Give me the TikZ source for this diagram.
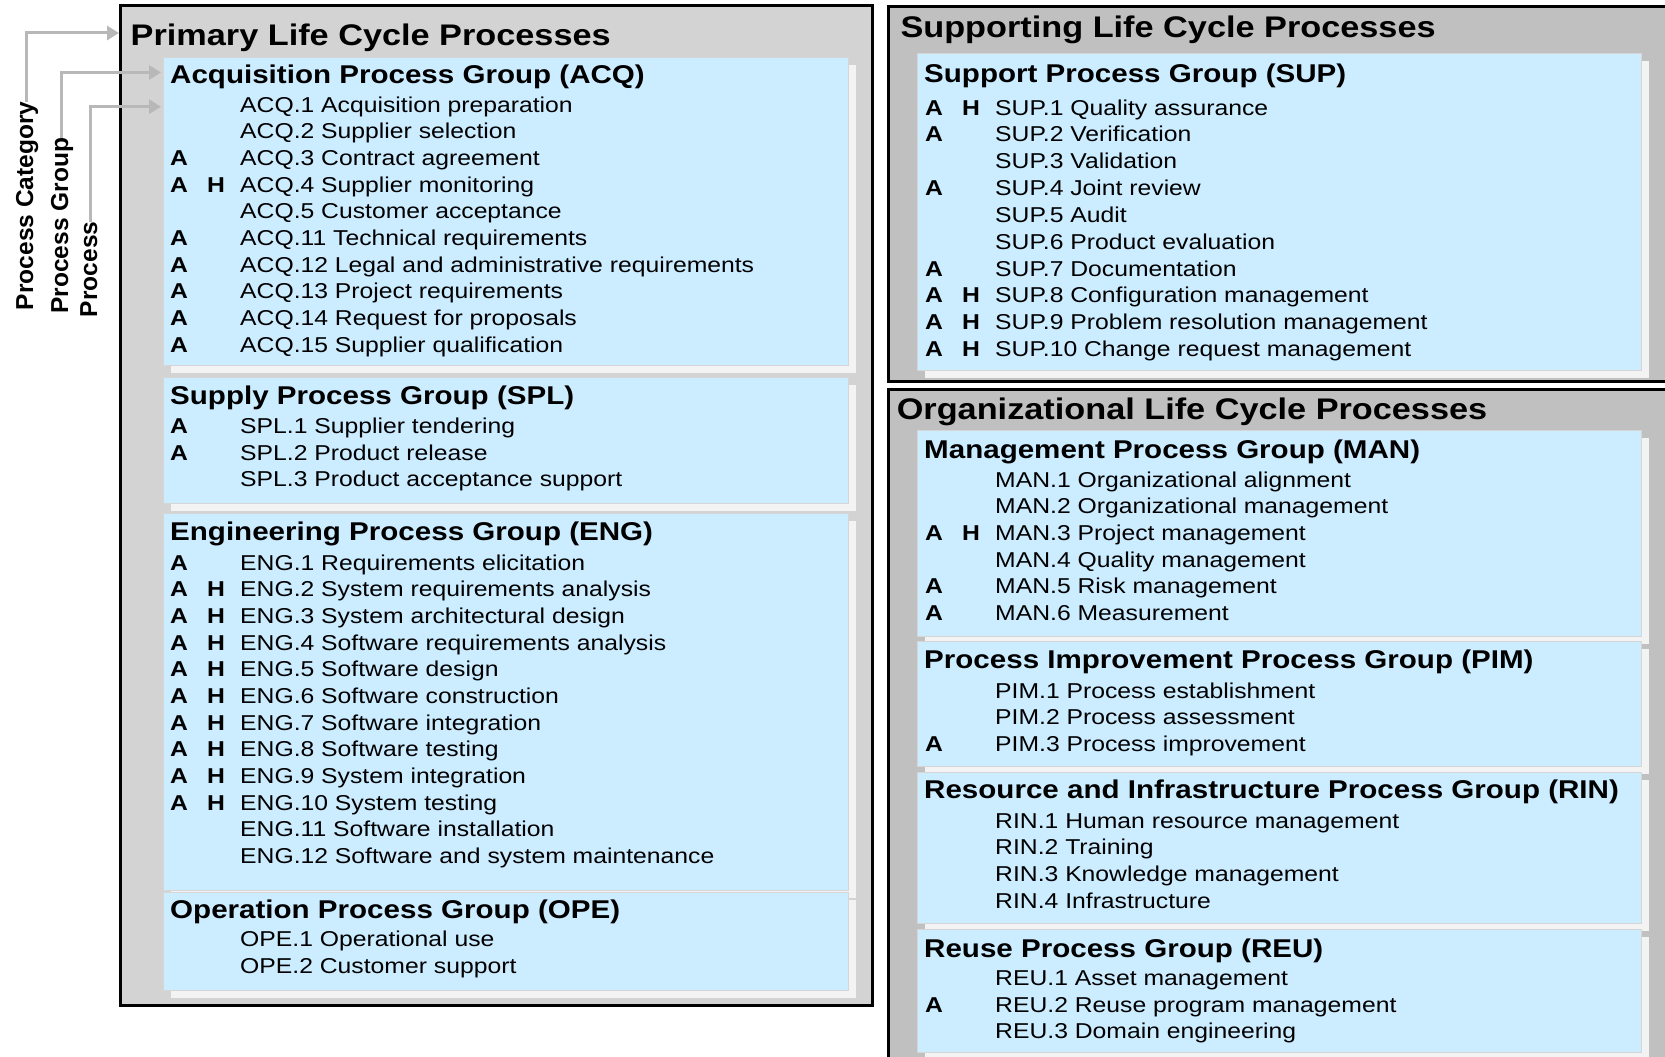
\documentclass[tikz,border=0pt]{standalone}
\usepackage{fontspec}
\setmainfont{Liberation Sans}[FakeStretch=1.15]
\newfontfamily\plainsans{Liberation Sans}
\usetikzlibrary{arrows.meta,shadows}
\definecolor{pblue}{HTML}{CCECFF}
\definecolor{pgray}{HTML}{D3D3D3}
\definecolor{sgray}{HTML}{C0C0C0}
\definecolor{shadowc}{HTML}{F3F3F3}
\definecolor{boxedge}{HTML}{D6D6D6}
\definecolor{arrgray}{HTML}{B8B8B8}
\newcommand{\plist}[1]{\begin{tabular}[t]{@{}p{37pt}@{}p{33pt}@{}l@{}}#1\end{tabular}}
\newcommand{\prow}[3]{\textbf{#1}&\textbf{#2}&#3\\}
\begin{document}
\begin{tikzpicture}[x=1pt,y=-1pt,
  catbox/.style={draw=black, line width=3pt, anchor=north west, inner sep=0pt, outer sep=0pt},
  grpbox/.style={fill=pblue, draw=boxedge, line width=0.8pt, anchor=north west, inner sep=0pt, outer sep=0pt,
    general shadow={fill=shadowc, shadow xshift=8pt, shadow yshift=-8pt}},
  titletxt/.style={anchor=base west, inner sep=0pt, font=\bfseries\fontsize{29.8}{34}\selectfont},
  headtxt/.style={anchor=base west, inner sep=0pt, font=\bfseries\fontsize{25.7}{30}\selectfont},
  itemtxt/.style={anchor=base west, inner sep=0pt, font=\fontsize{21.5}{26.67}\selectfont},
  itemtxtb/.style={anchor=base west, inner sep=0pt, font=\fontsize{21.5}{26.85}\selectfont},
  lbl/.style={rotate=90, anchor=base west, inner sep=0pt, outer sep=0pt, text height=18pt, text depth=5pt,
    font=\plainsans\bfseries\fontsize{24.5}{28}\selectfont},
  arr/.style={draw=arrgray, line width=3pt, -{Triangle[length=12pt,width=14pt]}}]
\useasboundingbox (0,0) rectangle (1665,1057);
\clip (0,0) rectangle (1665,1057);

% ---------- category boxes ----------
\node[catbox, fill=pgray, minimum width=752pt, minimum height=999pt] (primary) at (120.5,6) {};
\node[catbox, fill=sgray, minimum width=900pt, minimum height=374pt] (supporting) at (888.5,7) {};
\node[catbox, fill=sgray, minimum width=900pt, minimum height=800pt] (organizational) at (888.5,389) {};

% ---------- group boxes ----------
\node[grpbox, minimum width=685pt, minimum height=308pt] (acq) at (163,57) {};
\node[grpbox, minimum width=685pt, minimum height=126pt] (spl) at (163,377) {};
\node[grpbox, minimum width=685pt, minimum height=377pt] (eng) at (163,513) {};
\node[grpbox, minimum width=685pt, minimum height=98pt] (ope) at (163,892) {};
\node[grpbox, minimum width=724pt, minimum height=317pt] (sup) at (917,53) {};
\node[grpbox, minimum width=724pt, minimum height=206pt] (man) at (917,430) {};
\node[grpbox, minimum width=724pt, minimum height=125pt] (pim) at (917,641) {};
\node[grpbox, minimum width=724pt, minimum height=151pt] (rin) at (917,772) {};
\node[grpbox, minimum width=724pt, minimum height=123pt] (reu) at (917,929) {};

% ---------- titles ----------
\node[titletxt] (primtitle) at (130.5,45.5) {Primary Life Cycle Processes};
\node[titletxt] (suptitle) at (900.3,37.5) {Supporting Life Cycle Processes};
\node[titletxt] (orgtitle) at (896.6,419) {Organizational Life Cycle Processes};

% ---------- primary groups ----------
\node[headtxt] (acqhead) at (170,83.5) {Acquisition Process Group (ACQ)};
\node[itemtxt] (acqlist) at (170,112) {\plist{%
\prow{}{}{ACQ.1 Acquisition preparation}
\prow{}{}{ACQ.2 Supplier selection}
\prow{A}{}{ACQ.3 Contract agreement}
\prow{A}{H}{ACQ.4 Supplier monitoring}
\prow{}{}{ACQ.5 Customer acceptance}
\prow{A}{}{ACQ.11 Technical requirements}
\prow{A}{}{ACQ.12 Legal and administrative requirements}
\prow{A}{}{ACQ.13 Project requirements}
\prow{A}{}{ACQ.14 Request for proposals}
\prow{A}{}{ACQ.15 Supplier qualification}}};

\node[headtxt] (splhead) at (170,404) {Supply Process Group (SPL)};
\node[itemtxt] (spllist) at (170,433.5) {\plist{%
\prow{A}{}{SPL.1 Supplier tendering}
\prow{A}{}{SPL.2 Product release}
\prow{}{}{SPL.3 Product acceptance support}}};

\node[headtxt] (enghead) at (170,540) {Engineering Process Group (ENG)};
\node[itemtxt] (englist) at (170,570) {\plist{%
\prow{A}{}{ENG.1 Requirements elicitation}
\prow{A}{H}{ENG.2 System requirements analysis}
\prow{A}{H}{ENG.3 System architectural design}
\prow{A}{H}{ENG.4 Software requirements analysis}
\prow{A}{H}{ENG.5 Software design}
\prow{A}{H}{ENG.6 Software construction}
\prow{A}{H}{ENG.7 Software integration}
\prow{A}{H}{ENG.8 Software testing}
\prow{A}{H}{ENG.9 System integration}
\prow{A}{H}{ENG.10 System testing}
\prow{}{}{ENG.11 Software installation}
\prow{}{}{ENG.12 Software and system maintenance}}};

\node[headtxt] (opehead) at (170,918) {Operation Process Group (OPE)};
\node[itemtxt] (opelist) at (170,946.7) {\plist{%
\prow{}{}{OPE.1 Operational use}
\prow{}{}{OPE.2 Customer support}}};

% ---------- supporting ----------
\node[headtxt] (suphead) at (924,82.5) {Support Process Group (SUP)};
\node[itemtxtb] (suplist) at (925,115) {\plist{%
\prow{A}{H}{SUP.1 Quality assurance}
\prow{A}{}{SUP.2 Verification}
\prow{}{}{SUP.3 Validation}
\prow{A}{}{SUP.4 Joint review}
\prow{}{}{SUP.5 Audit}
\prow{}{}{SUP.6 Product evaluation}
\prow{A}{}{SUP.7 Documentation}
\prow{A}{H}{SUP.8 Configuration management}
\prow{A}{H}{SUP.9 Problem resolution management}
\prow{A}{H}{SUP.10 Change request management}}};

% ---------- organizational ----------
\node[headtxt] (manhead) at (924,458) {Management Process Group (MAN)};
\node[itemtxt] (manlist) at (925,487) {\plist{%
\prow{}{}{MAN.1 Organizational alignment}
\prow{}{}{MAN.2 Organizational management}
\prow{A}{H}{MAN.3 Project management}
\prow{}{}{MAN.4 Quality management}
\prow{A}{}{MAN.5 Risk management}
\prow{A}{}{MAN.6 Measurement}}};

\node[headtxt] (pimhead) at (924,668.3) {Process Improvement Process Group (PIM)};
\node[itemtxt] (pimlist) at (925,698.3) {\plist{%
\prow{}{}{PIM.1 Process establishment}
\prow{}{}{PIM.2 Process assessment}
\prow{A}{}{PIM.3 Process improvement}}};

\node[headtxt] (rinhead) at (924,798.3) {Resource and Infrastructure Process Group (RIN)};
\node[itemtxt] (rinlist) at (925,828) {\plist{%
\prow{}{}{RIN.1 Human resource management}
\prow{}{}{RIN.2 Training}
\prow{}{}{RIN.3 Knowledge management}
\prow{}{}{RIN.4 Infrastructure}}};

\node[headtxt] (reuhead) at (924,957) {Reuse Process Group (REU)};
\node[itemtxt] (reulist) at (925,985.5) {\plist{%
\prow{}{}{REU.1 Asset management}
\prow{A}{}{REU.2 Reuse program management}
\prow{}{}{REU.3 Domain engineering}}};

% ---------- legend labels and arrows ----------
\node[lbl] (lblcat) at (33,310) {Process Category};
\node[lbl] (lblgrp) at (68,313.5) {Process Group};
\node[lbl] (lblproc) at (97,317) {Process};
\coordinate (catTip) at (119,33);
\coordinate (grpTip) at (161,72.5);
\coordinate (procTip) at (161,106.7);
\draw[arr] (lblcat.east) |- (catTip);
\draw[arr] (lblgrp.east) |- (grpTip);
\draw[arr] (lblproc.east) |- (procTip);
\end{tikzpicture}
\end{document}
